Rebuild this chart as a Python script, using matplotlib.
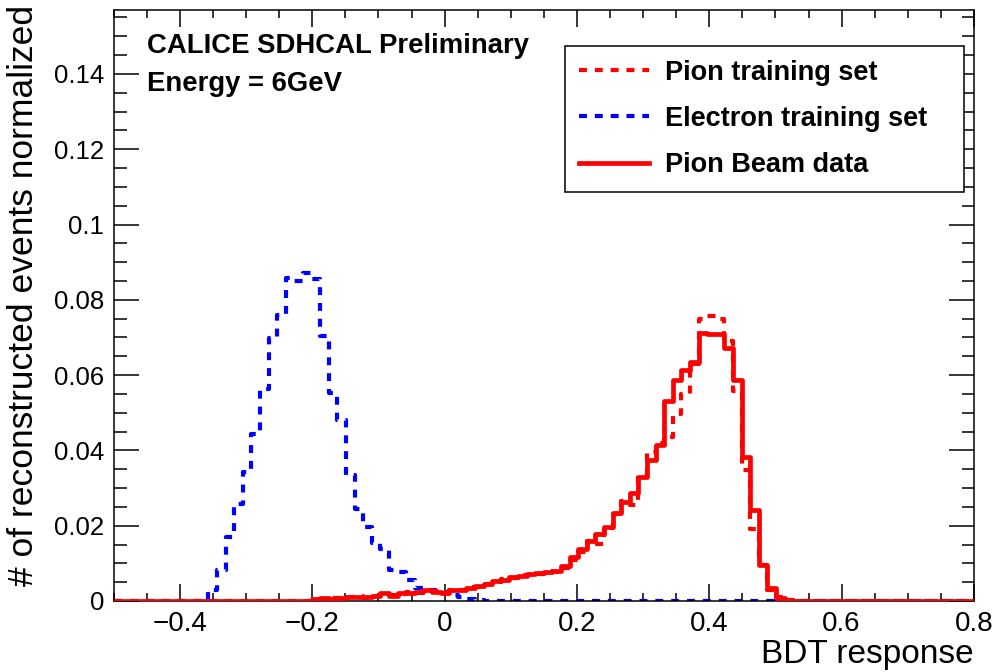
import matplotlib.pyplot as plt
import numpy as np

plt.rcParams['font.family'] = ['Liberation Sans', 'DejaVu Sans']

# 100 bins from -0.5 to 0.8 (BDT response)
n_bins = 100
x_min, x_max = -0.5, 0.8

# electron training set, first non-empty bin = 11
electron_first_bin = 11
electron_vals = [0.0028, 0.0081, 0.0170, 0.0257, 0.0342, 0.0444, 0.0564, 0.0698,
                 0.0760, 0.0858, 0.0850, 0.0871, 0.0854, 0.0705, 0.0553, 0.0481,
                 0.0334, 0.0245, 0.0197, 0.0154, 0.0139, 0.0081, 0.0076, 0.0057,
                 0.0035, 0.0030, 0.0028, 0.0022, 0.0015, 0.0010, 0.0005, 0.0003]

# pion histograms, first non-empty bin = 23
pion_first_bin = 23
pion_train_vals = [0.0003, 0.0006, 0.0008, 0.0007, 0.0010, 0.0012, 0.0009, 0.0014,
                   0.0016, 0.0015, 0.0018, 0.0023, 0.0022, 0.0026, 0.0027, 0.0025,
                   0.0030, 0.0028, 0.0036, 0.0038, 0.0046, 0.0050, 0.0058, 0.0060,
                   0.0068, 0.0070, 0.0072, 0.0080, 0.0078, 0.0088, 0.0110, 0.0130,
                   0.0158, 0.0152, 0.0195, 0.0230, 0.0265, 0.0255, 0.0335, 0.0396,
                   0.0420, 0.0435, 0.0497, 0.0551, 0.0630, 0.0750, 0.0758, 0.0750,
                   0.0690, 0.0559, 0.0347, 0.0192, 0.0095, 0.0030, 0.0010, 0.0002]
pion_data_vals = [0.0004, 0.0008, 0.0006, 0.0008, 0.0010, 0.0010, 0.0010, 0.0013,
                  0.0020, 0.0012, 0.0020, 0.0022, 0.0024, 0.0028, 0.0024, 0.0022,
                  0.0028, 0.0030, 0.0034, 0.0040, 0.0044, 0.0052, 0.0056, 0.0064,
                  0.0066, 0.0072, 0.0074, 0.0076, 0.0080, 0.0092, 0.0118, 0.0138,
                  0.0160, 0.0179, 0.0197, 0.0235, 0.0262, 0.0287, 0.0329, 0.0374,
                  0.0413, 0.0530, 0.0586, 0.0613, 0.0636, 0.0711, 0.0709, 0.0708,
                  0.0673, 0.0586, 0.0382, 0.0241, 0.0095, 0.0035, 0.0008, 0.0003]

x_ticks = [-0.4, -0.2, 0, 0.2, 0.4, 0.6, 0.8]
x_tick_labels = ['\u22120.4', '\u22120.2', '0', '0.2', '0.4', '0.6', '0.8']
y_ticks = [0, 0.02, 0.04, 0.06, 0.08, 0.1, 0.12, 0.14]
y_tick_labels = ['0', '0.02', '0.04', '0.06', '0.08', '0.1', '0.12', '0.14']


def fill_hist(first, vals):
    h = np.zeros(n_bins)
    h[first:first + len(vals)] = vals
    return h


edges = np.linspace(x_min, x_max, n_bins + 1)
electron = fill_hist(electron_first_bin, electron_vals)
pion_train = fill_hist(pion_first_bin, pion_train_vals)
pion_data = fill_hist(pion_first_bin, pion_data_vals)

fig = plt.figure(figsize=(9.99, 6.72), dpi=100)
ax = fig.add_axes([0.1139, 0.1057, 0.861, 0.8795])

dash = (0, (1.9, 1.9))
l_e, = ax.plot(edges, np.append(electron, electron[-1]), drawstyle='steps-post',
               color='#0000ff', lw=3.0, ls=dash, zorder=2)
l_pt, = ax.plot(edges, np.append(pion_train, pion_train[-1]), drawstyle='steps-post',
                color='#ff0000', lw=3.0, ls=dash, zorder=3)
l_pd, = ax.plot(edges, np.append(pion_data, pion_data[-1]), drawstyle='steps-post',
                color='#ff0000', lw=3.4, zorder=4)

ax.set_xlim(x_min, x_max)
ax.set_ylim(0, 0.157)
ax.set_xticks(x_ticks, x_tick_labels)
ax.set_yticks(y_ticks, y_tick_labels)
ax.set_xticks(np.arange(-0.5, 0.801, 0.05), minor=True)
ax.set_yticks(np.arange(0, 0.157, 0.005), minor=True)
ax.tick_params(axis='both', which='both', direction='in', top=True, right=True,
               width=1.1, pad=7)
ax.tick_params(axis='x', which='major', length=12, labelsize=20)
ax.tick_params(axis='x', which='minor', length=6)
ax.tick_params(axis='y', which='major', length=18, labelsize=18.5)
ax.tick_params(axis='y', which='minor', length=9)
for s in ax.spines.values():
    s.set_linewidth(1.1)

ax.set_xlabel('BDT response', fontsize=24, loc='right')
ax.xaxis.set_label_coords(1.0, -0.064)
ax.set_ylabel('# of reconstructed events normalized', fontsize=25.5, loc='top')
ax.yaxis.set_label_coords(-0.086, 1.008)

ax.text(0.0386, 0.939, 'CALICE SDHCAL Preliminary', transform=ax.transAxes,
        fontsize=19.8, fontweight='bold', va='center', ha='left')
ax.text(0.0386, 0.875, 'Energy = 6GeV', transform=ax.transAxes,
        fontsize=19.8, fontweight='bold', va='center', ha='left')

leg = ax.legend([l_pt, l_e, l_pd],
                ['Pion training set', 'Electron training set', 'Pion Beam data'],
                loc='upper left', bbox_to_anchor=(565 / 999, 1 - 192 / 672, 399 / 999, 146 / 672),
                bbox_transform=fig.transFigure, mode='expand', borderaxespad=0,
                prop={'weight': 'bold', 'size': 19.5}, handlelength=2.6,
                handletextpad=0.6, borderpad=0.5, labelspacing=0.75,
                fancybox=False, framealpha=1, edgecolor='black')
leg.get_frame().set_linewidth(1.1)

fig.savefig('out.png', dpi=100)
